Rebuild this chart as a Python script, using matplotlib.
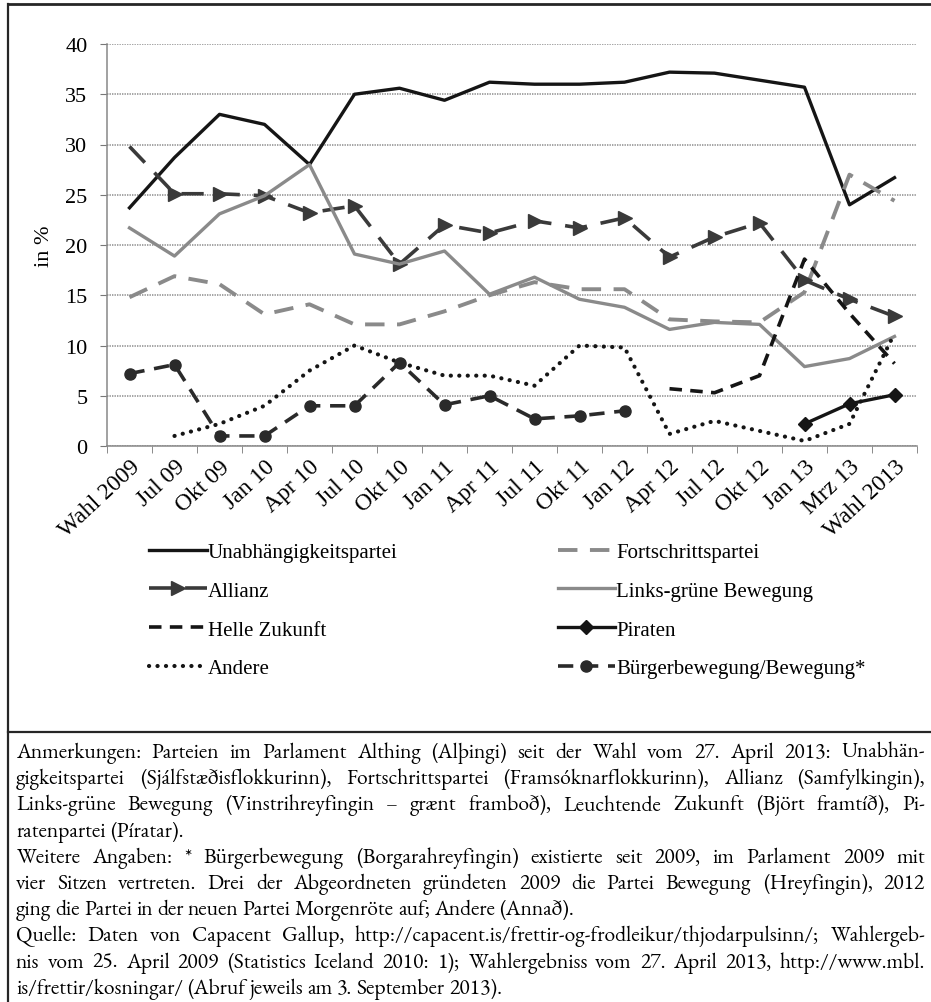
import numpy as np
import matplotlib
matplotlib.use('Agg')
import matplotlib.pyplot as plt
from matplotlib.lines import Line2D

# Daten (Umfragewerte in %)
categories = ["Wahl 2009", "Jul 09", "Okt 09", "Jan 10", "Apr 10", "Jul 10", "Okt 10",
              "Jan 11", "Apr 11", "Jul 11", "Okt 11", "Jan 12", "Apr 12", "Jul 12",
              "Okt 12", "Jan 13", "Mrz 13", "Wahl 2013"]
nan = np.nan
unabh = [23.7, 28.7, 33.0, 32.0, 28.0, 35.0, 35.6, 34.4, 36.2, 36.0, 36.0, 36.2,
         37.2, 37.1, 36.4, 35.7, 24.0, 26.7]
fortschritt = [14.8, 16.9, 16.1, 13.1, 14.1, 12.1, 12.1, 13.4, 15.0, 16.3, 15.6, 15.6,
               12.6, 12.4, 12.3, 15.3, 27.0, 24.4]
allianz = [29.8, 25.1, 25.1, 24.9, 23.2, 23.9, 18.1, 22.0, 21.2, 22.4, 21.7, 22.7,
           18.8, 20.8, 22.2, 16.5, 14.6, 12.9]
linksgruen = [21.7, 18.9, 23.1, 24.9, 28.0, 19.1, 18.1, 19.4, 15.1, 16.8, 14.6, 13.8,
              11.6, 12.3, 12.1, 7.9, 8.7, 10.9]
helle = [nan] * 12 + [5.7, 5.3, 7.0, 18.6, 13.2, 8.2]
piraten = [nan] * 15 + [2.2, 4.2, 5.1]
andere = [nan, 1.0, 2.2, 4.0, 7.5, 10.0, 8.3, 7.0, 7.0, 6.0, 10.0, 9.8,
          1.2, 2.5, 1.5, 0.5, 2.2, 11.2]
buerger = [7.2, 8.1, 1.0, 1.0, 4.0, 4.0, 8.3, 4.1, 5.0, 2.7, 3.0, 3.5] + [nan] * 6

yticks = [0, 5, 10, 15, 20, 25, 30, 35, 40]

notes = [
    ("Anmerkungen: Parteien im Parlament Althing (Alþingi) seit der Wahl vom 27. April 2013: Unabhän-", True),
    ("gigkeitspartei (Sjálfstæðisflokkurinn), Fortschrittspartei (Framsóknarflokkurinn), Allianz (Samfylkingin),", True),
    ("Links-grüne Bewegung (Vinstrihreyfingin – grænt framboð), Leuchtende Zukunft (Björt framtíð), Pi-", True),
    ("ratenpartei (Píratar).", False),
    ("Weitere Angaben: * Bürgerbewegung (Borgarahreyfingin) existierte seit 2009, im Parlament 2009 mit", True),
    ("vier Sitzen vertreten. Drei der Abgeordneten gründeten 2009 die Partei Bewegung (Hreyfingin), 2012", True),
    ("ging die Partei in der neuen Partei Morgenröte auf; Andere (Annað).", False),
    ("Quelle: Daten von Capacent Gallup, http://capacent.is/frettir-og-frodleikur/thjodarpulsinn/; Wahlergeb-", True),
    ("nis vom 25. April 2009 (Statistics Iceland 2010: 1); Wahlergebniss vom 27. April 2013, http://www.mbl.", True),
    ("is/frettir/kosningar/ (Abruf jeweils am 3. September 2013).", False),
]

plt.rcParams['font.family'] = ['Liberation Serif', 'DejaVu Serif']
plt.rcParams['lines.scale_dashes'] = False
note_family = ['EB Garamond', 'Liberation Serif', 'DejaVu Serif']

W, H = 931, 1003
fig = plt.figure(figsize=(W / 100, H / 100), dpi=100)
ax = fig.add_axes([107 / W, 1 - 447 / H, (917 - 107) / W, (447 - 45) / H])

x = np.arange(len(categories))
l_unabh, = ax.plot(x, unabh, color='#151515', lw=2.4, label='Unabhängigkeitspartei')
l_fort, = ax.plot(x, fortschritt, color='#8a8a8a', lw=2.8, dashes=(14, 9),
                  label='Fortschrittspartei')
l_alli, = ax.plot(x, allianz, color='#3a3a3a', lw=2.6, dashes=(16, 10), marker='>',
                  markersize=10, markevery=list(range(1, len(categories))), label='Allianz')
l_links, = ax.plot(x, linksgruen, color='#8a8a8a', lw=2.4, label='Links-grüne Bewegung')
l_helle, = ax.plot(x, helle, color='#151515', lw=2.6, dashes=(9, 6), label='Helle Zukunft')
l_pir, = ax.plot(x, piraten, color='#151515', lw=2.4, marker='D', markersize=7,
                 label='Piraten')
l_and, = ax.plot(x, andere, color='#151515', lw=3, linestyle=(0, (0.1, 6)),
                 dash_capstyle='round', label='Andere')
l_buer, = ax.plot(x, buerger, color='#2a2a2a', lw=2.6, dashes=(11, 7), marker='o',
                  markersize=8, label='Bürgerbewegung/Bewegung*')

ax.set_xlim(-0.5, len(categories) - 0.5)
ax.set_ylim(0, 40)
ax.set_yticks(yticks)
ax.tick_params(axis='y', labelsize=16, length=5, pad=9, color='#777777')
ax.set_xticks(x)
ax.set_xticklabels(categories, rotation=43, ha='right', va='top', rotation_mode='anchor')
ax.tick_params(axis='x', which='major', length=0, labelsize=17, pad=7)
ax.set_xticks(np.arange(-0.5, len(categories), 1), minor=True)
ax.tick_params(axis='x', which='minor', length=5, color='#777777')
ax.grid(axis='y', color='#8c8c8c', lw=1.1, linestyle=(0, (1, 0.8)))
ax.set_axisbelow(True)
for s in ['top', 'right']:
    ax.spines[s].set_visible(False)
for s in ['left', 'bottom']:
    ax.spines[s].set_color('#888888')
    ax.spines[s].set_linewidth(1.1)
ax.set_ylabel('in %', fontsize=16, labelpad=8)

handles = [l_unabh, l_alli, l_helle, l_and, l_fort, l_links, l_pir, l_buer]
fig.legend(handles=handles, labels=[h.get_label() for h in handles], ncol=2,
           loc='upper left', bbox_to_anchor=(139 / W, 1 - 533 / H), frameon=False,
           fontsize=15, handlelength=2.74, handletextpad=0.06, columnspacing=7.7,
           labelspacing=0.92, borderpad=0)

# Rahmenlinien
lc = '#262626'
fig.add_artist(Line2D([8 / W, 8 / W], [0, 1 - 5 / H], transform=fig.transFigure, color=lc, lw=1.6))
fig.add_artist(Line2D([8 / W, 1], [1 - 5 / H, 1 - 5 / H], transform=fig.transFigure, color=lc, lw=2.0))
fig.add_artist(Line2D([8 / W, 1], [1 - 733 / H, 1 - 733 / H], transform=fig.transFigure, color=lc, lw=1.6))

# Anmerkungen, Blocksatz
renderer = fig.canvas.get_renderer()
left, right = 16, 925


def width_of(s, fs):
    t = fig.text(0, 0, s, fontsize=fs, family=note_family)
    w = t.get_window_extent(renderer).width
    t.remove()
    return w


fs = 15.5
maxw = max(width_of(s, fs) for s, _ in notes)
if maxw > (right - left) * 0.99:
    fs = fs * (right - left) * 0.99 / maxw
space_w = width_of('a a', fs) - 2 * width_of('a', fs)

y0, dy = 758, 26.2
for k, (s, justify) in enumerate(notes):
    words = s.split(' ')
    objs = [fig.text(0, 0, w, fontsize=fs, va='baseline', ha='left', family=note_family)
            for w in words]
    widths = [o.get_window_extent(renderer).width for o in objs]
    gap = (right - left - sum(widths)) / (len(words) - 1) if justify else space_w
    xp = left
    yp = y0 + k * dy
    for o, w in zip(objs, widths):
        o.set_position((xp / W, 1 - yp / H))
        xp += w + gap

fig.savefig('out.png', dpi=100)
